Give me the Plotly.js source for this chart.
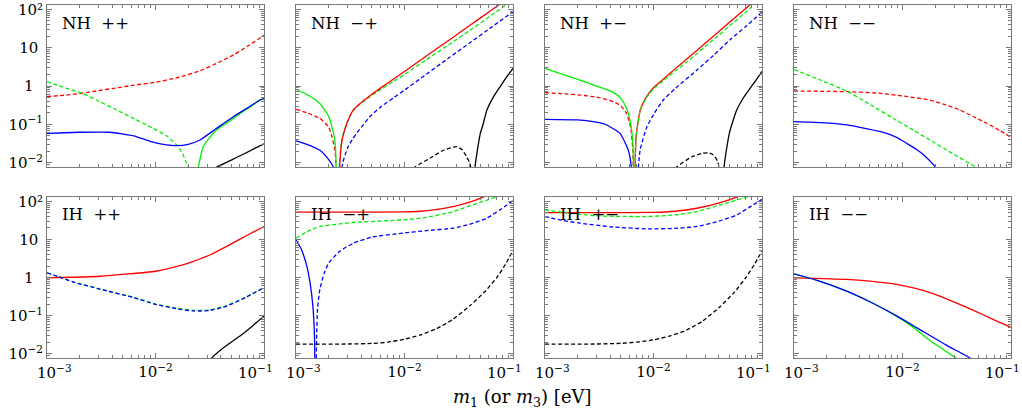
<!DOCTYPE html>
<html>
<head>
<meta charset="utf-8">
<script src="https://cdn.plot.ly/plotly-3.0.1.min.js"></script>
<style>html,body{margin:0;padding:0;background:#fff;}#chart{width:1022px;height:414px;}</style>
</head>
<body>
<div id="chart"></div>
<script>
// ---------- tick labels ----------
const xTickVals = [0.001, 0.01, 0.1];
const xTickText = ['', '10<sup>−2</sup>', ''];          // middle label on the axis itself
const xEndLabels = ['10<sup>−3</sup>', '10<sup>−1</sup>']; // end labels, nudged inward like the original
const yTickVals = [0.01, 0.1, 1, 10, 100];
const yTickText = ['10<sup>−2</sup>', '10<sup>−1</sup>', '1&nbsp;&nbsp;', '10&nbsp;', '10²'];
const panelLabels = ['NH  ++', 'NH  −+', 'NH  +−', 'NH  −−', 'IH  ++', 'IH  −+', 'IH  +−', 'IH  −−'];

// ---------- NH ++ ----------
const nhpp_red_m = [0.001, 0.0015, 0.0021, 0.003, 0.0041, 0.0063, 0.01, 0.0158, 0.0257, 0.04, 0.0525, 0.0708, 0.1];
const nhpp_red_v = [0.53, 0.58, 0.65, 0.76, 0.87, 1.05, 1.25, 1.65, 2.5, 4.4, 6.5, 11, 21];
const nhpp_greenD_m = [0.001, 0.0015, 0.0021, 0.003, 0.0044, 0.0065, 0.0095, 0.0126, 0.0157, 0.0178, 0.0198, 0.0209, 0.0219];
const nhpp_greenD_v = [1.3, 0.88, 0.65, 0.4, 0.236, 0.135, 0.0785, 0.05, 0.029, 0.017, 0.0077, 0.003, 0.0001];
const nhpp_greenS_m = [0.0219, 0.0234, 0.0248, 0.0275, 0.0316, 0.0366, 0.0447, 0.0521, 0.0708, 0.0918, 0.1];
const nhpp_greenS_v = [0.0001, 0.004, 0.0077, 0.026, 0.045, 0.071, 0.105, 0.143, 0.26, 0.43, 0.46];
const nhpp_blue_m = [0.001, 0.002, 0.0038, 0.0063, 0.0089, 0.0126, 0.0157, 0.02, 0.0257, 0.0355, 0.0521, 0.0708, 0.0918, 0.1];
const nhpp_blue_v = [0.058, 0.062, 0.062, 0.05, 0.036, 0.029, 0.0277, 0.03, 0.039, 0.074, 0.158, 0.27, 0.43, 0.47];
const nhpp_black_m = [0.0316, 0.0372, 0.0631, 0.1];
const nhpp_black_v = [0.006, 0.0078, 0.016, 0.031];

// ---------- NH -+ ----------
const nhmp_greenS_m = [0.001, 0.00126, 0.00166, 0.002, 0.00214, 0.00229, 0.00242];
const nhmp_greenS_v = [0.82, 0.6, 0.35, 0.16, 0.087, 0.035, 0.0001];
const nhmp_greenD_m = [0.00243, 0.00252, 0.00264, 0.00293, 0.00337, 0.004, 0.0047, 0.006, 0.008, 0.01, 0.0158, 0.0251, 0.0398, 0.0631, 0.1];
const nhmp_greenD_v = [0.0001, 0.01, 0.039, 0.105, 0.23, 0.36, 0.5, 0.8, 1.35, 2.0, 4.8, 11.5, 28, 70, 175];
const nhmp_redD_m = [0.001, 0.00126, 0.00166, 0.002, 0.00214, 0.00229, 0.00247];
const nhmp_redD_v = [0.246, 0.2, 0.143, 0.085, 0.048, 0.02, 0.0001];
const nhmp_redS_m = [0.00247, 0.00254, 0.00266, 0.00295, 0.00337, 0.004, 0.0047, 0.006, 0.008, 0.01, 0.0158, 0.0251, 0.0398, 0.0631, 0.1];
const nhmp_redS_v = [0.0001, 0.01, 0.039, 0.107, 0.236, 0.37, 0.53, 0.88, 1.55, 2.4, 6.0, 15, 38, 95, 240];
const nhmp_blueS_m = [0.001, 0.00126, 0.00166, 0.002, 0.00221, 0.0024, 0.00245];
const nhmp_blueS_v = [0.037, 0.03, 0.021, 0.012, 0.0077, 0.003, 0.0001];
const nhmp_blueD_m = [0.00246, 0.0025, 0.0027, 0.003, 0.0033, 0.0036, 0.0042, 0.0048, 0.006, 0.008, 0.01, 0.0158, 0.0251, 0.0398, 0.0631, 0.1];
const nhmp_blueD_v = [0.0001, 0.002, 0.01, 0.025, 0.04, 0.057, 0.1, 0.16, 0.28, 0.5, 0.78, 2.0, 5.2, 13.3, 34, 87];
const nhmp_blackD_m = [0.0112, 0.0125, 0.0172, 0.0228, 0.0302, 0.0339, 0.0372, 0.0398, 0.0417, 0.0427];
const nhmp_blackD_v = [0.005, 0.0077, 0.013, 0.021, 0.026, 0.022, 0.0145, 0.01, 0.005, 0.0001];
const nhmp_blackS_m = [0.0432, 0.0447, 0.0479, 0.0501, 0.0525, 0.0575, 0.0661, 0.0759, 0.0871, 0.1];
const nhmp_blackS_v = [0.0001, 0.0077, 0.03, 0.06, 0.09, 0.236, 0.52, 0.95, 1.7, 2.9];

// ---------- NH +- ----------
const nhpm_greenS_m = [0.001, 0.00141, 0.002, 0.00282, 0.00355, 0.00427, 0.00501, 0.00562, 0.00617, 0.00646, 0.0066];
const nhpm_greenS_v = [2.9, 2.07, 1.48, 1.06, 0.84, 0.68, 0.47, 0.27, 0.1, 0.03, 0.0001];
const nhpm_redD_m = [0.001, 0.00158, 0.0021, 0.00316, 0.00427, 0.00501, 0.00566, 0.00617, 0.00646, 0.0066];
const nhpm_redD_v = [0.67, 0.62, 0.58, 0.5, 0.39, 0.3, 0.19, 0.08, 0.02, 0.0001];
const nhpm_blueS_m = [0.001, 0.002, 0.00316, 0.0037, 0.00491, 0.00586, 0.00624, 0.00646];
const nhpm_blueS_v = [0.135, 0.13, 0.11, 0.096, 0.058, 0.021, 0.0077, 0.0001];
const nhpm_redS_m = [0.0066, 0.00692, 0.00759, 0.00871, 0.01, 0.0126, 0.0158, 0.02, 0.0251, 0.0316, 0.0398, 0.0501, 0.0631, 0.0794, 0.1];
const nhpm_redS_v = [0.0001, 0.05, 0.25, 0.55, 0.9, 1.6, 2.8, 4.9, 8.5, 15, 26, 46, 80, 140, 250];
const nhpm_greenD_m = [0.0066, 0.00692, 0.00759, 0.00871, 0.01, 0.0126, 0.0158, 0.02, 0.0251, 0.0316, 0.0398, 0.0501, 0.0631, 0.0794, 0.1];
const nhpm_greenD_v = [0.0001, 0.05, 0.24, 0.52, 0.84, 1.45, 2.45, 4.1, 7, 12.2, 21, 37, 64, 112, 200];
const nhpm_blueD_m = [0.0066, 0.00752, 0.00871, 0.01, 0.0123, 0.0158, 0.0251, 0.0355, 0.0507, 0.0708, 0.1];
const nhpm_blueD_v = [0.0001, 0.021, 0.087, 0.18, 0.43, 0.85, 2.6, 6.2, 16, 36, 85];
const nhpm_blackD_m = [0.0148, 0.0164, 0.0224, 0.0282, 0.032, 0.0355, 0.0389, 0.0407, 0.0417];
const nhpm_blackD_v = [0.005, 0.0077, 0.014, 0.0175, 0.018, 0.016, 0.011, 0.006, 0.0001];
const nhpm_blackS_m = [0.0427, 0.0447, 0.0501, 0.0585, 0.0676, 0.0776, 0.0891, 0.1];
const nhpm_blackS_v = [0.0001, 0.0077, 0.06, 0.236, 0.5, 0.87, 1.5, 2.4];

// ---------- NH -- ----------
const nhmm_green_m = [0.001, 0.00174, 0.00306, 0.00501, 0.00885, 0.0126, 0.0179, 0.0282, 0.0466, 0.0631];
const nhmm_green_v = [2.7, 1.44, 0.74, 0.33, 0.126, 0.07, 0.039, 0.018, 0.0078, 0.0047];
const nhmm_red_m = [0.001, 0.00316, 0.00621, 0.01, 0.0179, 0.0251, 0.0339, 0.0447, 0.0597, 0.0794, 0.1];
const nhmm_red_v = [0.74, 0.71, 0.645, 0.55, 0.43, 0.32, 0.236, 0.16, 0.106, 0.068, 0.046];
const nhmm_blue_m = [0.001, 0.00178, 0.00306, 0.00621, 0.00891, 0.0109, 0.0135, 0.0156, 0.02, 0.0251];
const nhmm_blue_v = [0.117, 0.11, 0.096, 0.065, 0.045, 0.032, 0.022, 0.016, 0.0077, 0.002];

// ---------- IH ++ ----------
const ihpp_red_m = [0.001, 0.00309, 0.01, 0.0158, 0.0224, 0.0316, 0.0453, 0.0631, 0.0794, 0.1];
const ihpp_red_v = [0.98, 1.08, 1.46, 1.95, 2.67, 3.9, 6.6, 11, 15.5, 21.9];
const ihpp_green_m = [0.001, 0.00127, 0.00178, 0.00309, 0.00631, 0.01, 0.0158, 0.0224, 0.0316, 0.0453, 0.0631, 0.1];
const ihpp_green_v = [1.33, 1.05, 0.76, 0.5, 0.3, 0.202, 0.155, 0.137, 0.14, 0.183, 0.275, 0.54];
const ihpp_blue_m = [0.001, 0.00127, 0.00178, 0.00309, 0.00631, 0.01, 0.0158, 0.0224, 0.0316, 0.0453, 0.0631, 0.1];
const ihpp_blue_v = [1.33, 1.05, 0.75, 0.49, 0.295, 0.197, 0.15, 0.132, 0.135, 0.178, 0.27, 0.54];
const ihpp_black_m = [0.0316, 0.033, 0.0447, 0.0601, 0.0794, 0.1];
const ihpp_black_v = [0.0065, 0.0077, 0.016, 0.029, 0.055, 0.098];

// ---------- IH -+ ----------
const ihmp_red_m = [0.001, 0.00316, 0.01, 0.0139, 0.02, 0.0282, 0.0398, 0.0532, 0.0794];
const ihmp_red_v = [52, 52, 53, 55, 62, 73, 95, 130, 220];
const ihmp_greenD_m = [0.001, 0.00126, 0.00166, 0.00251, 0.00339, 0.00631, 0.00977, 0.0158, 0.0282, 0.0447, 0.0697, 0.1];
const ihmp_greenD_v = [10.8, 16, 21.9, 25.5, 27.9, 30.5, 32.7, 38, 54, 85, 130, 190];
const ihmp_blueS_m = [0.001, 0.00112, 0.00126, 0.00135, 0.00143, 0.00148, 0.00151];
const ihmp_blueS_v = [9.8, 5.5, 1.97, 0.7, 0.18, 0.03, 0.0001];
const ihmp_blueD_m = [0.00151, 0.00155, 0.00158, 0.00166, 0.00182, 0.002, 0.00251, 0.00339, 0.00501, 0.00977, 0.0158, 0.0282, 0.0398, 0.0571, 0.0759, 0.1];
const ihmp_blueD_v = [0.0001, 0.03, 0.15, 0.49, 1.3, 2.4, 4.8, 8.0, 11.5, 14.7, 17, 19.8, 25, 36, 60, 105];
const ihmp_black_m = [0.001, 0.003, 0.005, 0.007, 0.01, 0.014, 0.02, 0.028, 0.04, 0.056, 0.071, 0.085, 0.1];
const ihmp_black_v = [0.0178, 0.0179, 0.0185, 0.02, 0.024, 0.031, 0.046, 0.08, 0.18, 0.45, 1.0, 2.2, 5.2];

// ---------- IH +- ----------
const ihpm_red_m = [0.001, 0.00316, 0.01, 0.0158, 0.0251, 0.0398, 0.0585, 0.0794];
const ihpm_red_v = [50.7, 50.5, 51.5, 55, 66, 90, 130, 190];
const ihpm_greenD_m = [0.001, 0.00158, 0.00302, 0.00865, 0.0158, 0.0251, 0.0398, 0.0723, 0.1];
const ihpm_greenD_v = [59.6, 50, 41.6, 40, 44, 54, 78, 130, 180];
const ihpm_blueD_m = [0.001, 0.00141, 0.0021, 0.00398, 0.00865, 0.0158, 0.0251, 0.0398, 0.0585, 0.0794, 0.1];
const ihpm_blueD_v = [40, 32, 26.8, 21.5, 19, 19.5, 21.9, 30, 44, 75, 113];
const ihpm_black_m = [0.001, 0.003, 0.005, 0.007, 0.01, 0.014, 0.02, 0.028, 0.04, 0.056, 0.071, 0.085, 0.1];
const ihpm_black_v = [0.0178, 0.0179, 0.0186, 0.02, 0.023, 0.029, 0.041, 0.07, 0.16, 0.42, 1.0, 2.2, 5.0];

// ---------- IH -- ----------
const ihmm_red_m = [0.001, 0.00306, 0.00501, 0.00885, 0.0126, 0.0179, 0.0251, 0.0363, 0.0501, 0.0597, 0.0794, 0.1];
const ihmm_red_v = [0.98, 0.89, 0.8, 0.66, 0.53, 0.40, 0.28, 0.18, 0.12, 0.095, 0.065, 0.049];
const ihmm_green_m = [0.001, 0.00158, 0.00306, 0.00501, 0.00885, 0.0126, 0.0179, 0.0251, 0.0311, 0.0355];
const ihmm_green_v = [1.25, 0.87, 0.44, 0.23, 0.095, 0.049, 0.022, 0.0115, 0.0077, 0.0055];
const ihmm_blue_m = [0.001, 0.00158, 0.00306, 0.00501, 0.00885, 0.0126, 0.0179, 0.0251, 0.0355, 0.0419, 0.0501];
const ihmm_blue_v = [1.25, 0.87, 0.44, 0.23, 0.098, 0.054, 0.030, 0.017, 0.01, 0.0077, 0.0055];

// ---------- styling ----------
const RED = '#ff0000', GREEN = '#00ee00', BLUE = '#0000ff', BLACK = '#000000';
const DASH = '4px,2.5px';
const LW = 1.3;

function tr(m, v, color, dashed, idx) {
  const s = idx === 1 ? '' : String(idx);
  return {
    x: m, y: v, xaxis: 'x' + s, yaxis: 'y' + s, type: 'scatter', mode: 'lines',
    line: {color: color, width: LW, dash: dashed ? DASH : 'solid', shape: 'spline', smoothing: 0.5},
    hoverinfo: 'skip', showlegend: false
  };
}

const traces = [
  tr(nhpp_red_m, nhpp_red_v, RED, true, 1),
  tr(nhpp_greenD_m, nhpp_greenD_v, GREEN, true, 1),
  tr(nhpp_greenS_m, nhpp_greenS_v, GREEN, false, 1),
  tr(nhpp_blue_m, nhpp_blue_v, BLUE, false, 1),
  tr(nhpp_black_m, nhpp_black_v, BLACK, false, 1),

  tr(nhmp_blueS_m, nhmp_blueS_v, BLUE, false, 2),
  tr(nhmp_blueD_m, nhmp_blueD_v, BLUE, true, 2),
  tr(nhmp_redD_m, nhmp_redD_v, RED, true, 2),
  tr(nhmp_greenD_m, nhmp_greenD_v, GREEN, true, 2),
  tr(nhmp_redS_m, nhmp_redS_v, RED, false, 2),
  tr(nhmp_greenS_m, nhmp_greenS_v, GREEN, false, 2),
  tr(nhmp_blackD_m, nhmp_blackD_v, BLACK, true, 2),
  tr(nhmp_blackS_m, nhmp_blackS_v, BLACK, false, 2),

  tr(nhpm_blueS_m, nhpm_blueS_v, BLUE, false, 3),
  tr(nhpm_blueD_m, nhpm_blueD_v, BLUE, true, 3),
  tr(nhpm_redD_m, nhpm_redD_v, RED, true, 3),
  tr(nhpm_redS_m, nhpm_redS_v, RED, false, 3),
  tr(nhpm_greenD_m, nhpm_greenD_v, GREEN, true, 3),
  tr(nhpm_greenS_m, nhpm_greenS_v, GREEN, false, 3),
  tr(nhpm_blackD_m, nhpm_blackD_v, BLACK, true, 3),
  tr(nhpm_blackS_m, nhpm_blackS_v, BLACK, false, 3),

  tr(nhmm_red_m, nhmm_red_v, RED, true, 4),
  tr(nhmm_green_m, nhmm_green_v, GREEN, true, 4),
  tr(nhmm_blue_m, nhmm_blue_v, BLUE, false, 4),

  tr(ihpp_red_m, ihpp_red_v, RED, false, 5),
  tr(ihpp_green_m, ihpp_green_v, GREEN, true, 5),
  tr(ihpp_blue_m, ihpp_blue_v, BLUE, true, 5),
  tr(ihpp_black_m, ihpp_black_v, BLACK, false, 5),

  tr(ihmp_red_m, ihmp_red_v, RED, false, 6),
  tr(ihmp_greenD_m, ihmp_greenD_v, GREEN, true, 6),
  tr(ihmp_blueS_m, ihmp_blueS_v, BLUE, false, 6),
  tr(ihmp_blueD_m, ihmp_blueD_v, BLUE, true, 6),
  tr(ihmp_black_m, ihmp_black_v, BLACK, true, 6),

  tr(ihpm_red_m, ihpm_red_v, RED, false, 7),
  tr(ihpm_greenD_m, ihpm_greenD_v, GREEN, true, 7),
  tr(ihpm_blueD_m, ihpm_blueD_v, BLUE, true, 7),
  tr(ihpm_black_m, ihpm_black_v, BLACK, true, 7),

  tr(ihmm_red_m, ihmm_red_v, RED, false, 8),
  tr(ihmm_green_m, ihmm_green_v, GREEN, false, 8),
  tr(ihmm_blue_m, ihmm_blue_v, BLUE, false, 8)
];

const W = 1022, H = 414;
const colPx = [[47, 264], [296, 513], [545, 762], [794, 1011]];
const rowPx = [[5, 167], [197, 358]];
const FONT = "'DejaVu Serif', 'Liberation Serif', serif";
const FRAME = '#7a7a7a';

const xMinor = [], yMinor = [];
[0.001, 0.01].forEach(d => { for (let k = 2; k <= 9; k++) xMinor.push(d * k); });
[0.001, 0.01, 0.1, 1, 10].forEach(d => { for (let k = 2; k <= 9; k++) yMinor.push(d * k); });

const layout = {
  width: W, height: H, margin: {l: 0, r: 0, t: 0, b: 0},
  paper_bgcolor: '#fff', plot_bgcolor: '#fff',
  font: {family: FONT, size: 15, color: '#000'},
  showlegend: false, annotations: []
};

for (let i = 0; i < 8; i++) {
  const r = Math.floor(i / 4), c = i % 4;
  const s = i === 0 ? '' : String(i + 1);
  const xd = [colPx[c][0] / W, colPx[c][1] / W];
  const yd = [1 - rowPx[r][1] / H, 1 - rowPx[r][0] / H];
  layout['xaxis' + s] = {
    type: 'log', range: [-3, -1], domain: xd, anchor: 'y' + s,
    showline: true, linecolor: FRAME, linewidth: 1, mirror: 'allticks',
    ticks: 'inside', ticklen: 5, tickcolor: FRAME, tickwidth: 1,
    tickmode: 'array', tickvals: xTickVals, ticktext: xTickText,
    showticklabels: r === 1, ticklabeloverflow: 'allow',
    tickfont: {family: FONT, size: 15, color: '#000'},
    minor: {tickmode: 'array', tickvals: xMinor, ticks: 'inside', ticklen: 3, tickcolor: FRAME, tickwidth: 1, showgrid: false},
    showgrid: false, zeroline: false, fixedrange: true
  };
  layout['yaxis' + s] = {
    type: 'log', range: [-2.115, 2.115], domain: yd, anchor: 'x' + s,
    showline: true, linecolor: FRAME, linewidth: 1, mirror: 'allticks',
    ticks: 'inside', ticklen: 5, tickcolor: FRAME, tickwidth: 1,
    tickmode: 'array', tickvals: yTickVals, ticktext: yTickText,
    showticklabels: c === 0, ticklabeloverflow: 'allow',
    tickfont: {family: FONT, size: 15, color: '#000'},
    minor: {tickmode: 'array', tickvals: yMinor, ticks: 'inside', ticklen: 3, tickcolor: FRAME, tickwidth: 1, showgrid: false},
    showgrid: false, zeroline: false, fixedrange: true
  };
  layout.annotations.push({
    text: panelLabels[i].replace(/ /g, '&nbsp;'), xref: 'x' + s + ' domain', yref: 'y' + s + ' domain',
    x: 0.06, y: 1 - 18 / 162, xanchor: 'left', yanchor: 'middle', showarrow: false,
    font: {family: FONT, size: 16.5, color: '#000'}
  });
  if (r === 1) {
    layout.annotations.push({
      text: xEndLabels[0], xref: 'x' + s, yref: 'paper',
      x: Math.log10(xTickVals[0]), xshift: -12, y: 1 - 372 / H,
      xanchor: 'left', yanchor: 'middle', showarrow: false,
      font: {family: FONT, size: 15, color: '#000'}
    });
    layout.annotations.push({
      text: xEndLabels[1], xref: 'x' + s, yref: 'paper',
      x: Math.log10(xTickVals[2]), xshift: 11, y: 1 - 372 / H,
      xanchor: 'right', yanchor: 'middle', showarrow: false,
      font: {family: FONT, size: 15, color: '#000'}
    });
  }
}

layout.annotations.push({
  text: '<i>m</i><sub>1</sub> (or <i>m</i><sub>3</sub>) [eV]', xref: 'paper', yref: 'paper',
  x: 522 / W, y: 1 - 398 / H, xanchor: 'center', yanchor: 'middle', showarrow: false,
  font: {family: FONT, size: 18, color: '#000'}
});

Plotly.newPlot('chart', traces, layout, {staticPlot: true, displayModeBar: false});
</script>
</body>
</html>
